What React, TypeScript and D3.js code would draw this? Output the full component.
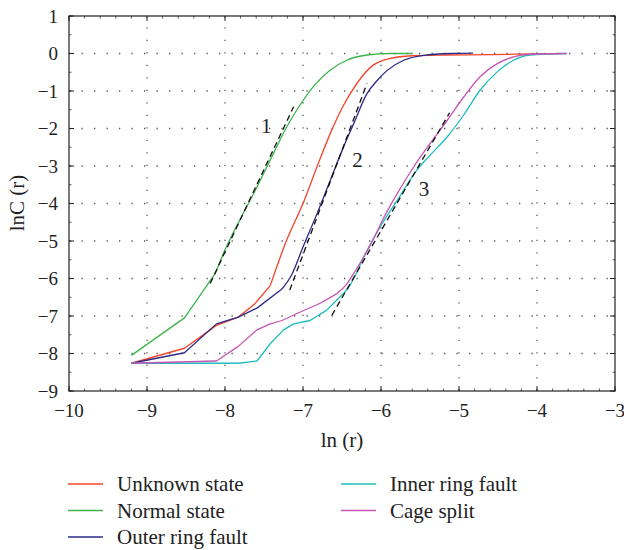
import React from "react";
import * as d3 from "d3";

// ---------- data (ln r, ln C(r)) ----------
const unknownX = [-9.2, -8.52, -8.11, -7.83, -7.62, -7.42, -7.21, -7.0, -6.82, -6.65, -6.48, -6.31, -6.1, -5.88, -5.6, -5.2, -4.6, -4.05, -3.7];
const unknownY = [-8.26, -7.86, -7.25, -7.03, -6.68, -6.19, -4.98, -4.0, -3.02, -2.13, -1.38, -0.8, -0.31, -0.13, -0.06, -0.04, -0.03, -0.01, 0];

const normalX = [-9.2, -8.52, -8.12, -8.02, -7.81, -7.59, -7.38, -7.21, -7.04, -6.87, -6.65, -6.44, -6.18, -5.88, -5.59];
const normalY = [-8.05, -7.05, -5.85, -5.33, -4.44, -3.56, -2.67, -1.96, -1.38, -0.89, -0.44, -0.18, -0.04, 0, 0];

const outerX = [-9.2, -8.52, -8.11, -7.83, -7.59, -7.27, -7.15, -7.0, -6.82, -6.65, -6.48, -6.35, -6.18, -6.05, -5.92, -5.71, -5.45, -5.1, -4.82];
const outerY = [-8.26, -7.98, -7.21, -7.03, -6.79, -6.28, -5.92, -5.16, -4.27, -3.38, -2.49, -1.87, -1.07, -0.72, -0.45, -0.18, -0.05, 0, 0.01];

const innerX = [-9.2, -7.83, -7.59, -7.42, -7.25, -7.12, -6.91, -6.7, -6.53, -6.42, -6.33, -6.22, -6.01, -5.79, -5.54, -5.37, -5.15, -4.94, -4.73, -4.51, -4.3, -4.09, -3.62];
const innerY = [-8.26, -8.26, -8.2, -7.74, -7.37, -7.21, -7.12, -6.85, -6.5, -6.25, -5.92, -5.42, -4.62, -3.91, -3.11, -2.71, -2.22, -1.64, -0.98, -0.49, -0.18, -0.04, 0];

const cageX = [-9.2, -8.11, -7.83, -7.59, -7.42, -7.27, -7.04, -6.78, -6.57, -6.44, -6.33, -6.2, -6.05, -5.97, -5.79, -5.58, -5.37, -5.15, -4.94, -4.73, -4.51, -4.3, -4.09, -3.62];
const cageY = [-8.26, -8.2, -7.81, -7.37, -7.21, -7.12, -6.9, -6.66, -6.41, -6.15, -5.8, -5.35, -4.75, -4.4, -3.73, -3.02, -2.4, -1.78, -1.16, -0.62, -0.27, -0.09, -0.02, 0];

const seriesNames = ["Unknown state", "Normal state", "Outer ring fault", "Inner ring fault", "Cage split"];
const seriesColors = ["#f4452a", "#3cb44a", "#2d2a87", "#1fbdbd", "#c455b5"];
const seriesXs = [unknownX, normalX, outerX, innerX, cageX];
const seriesYs = [unknownY, normalY, outerY, innerY, cageY];
// index from which each curve is drawn smooth (before it: straight segments)
const smoothFrom = [5, 2, 5, 8, 8];

// fitted dashed lines
const fitLabels = ["1", "2", "3"];
const fitStartX = [-8.19, -7.17, -6.63];
const fitStartY = [-6.13, -6.31, -6.98];
const fitEndX = [-7.12, -6.18, -5.12];
const fitEndY = [-1.42, -0.8, -1.58];
const fitLabelX = [-7.47, -6.3, -5.45];
const fitLabelY = [-1.93, -2.84, -3.61];

const xTicks = [-10, -9, -8, -7, -6, -5, -4, -3];
const yTicks = [1, 0, -1, -2, -3, -4, -5, -6, -7, -8, -9];

const W = 624;
const H = 550;
const left = 69, right = 615, top = 16, bottom = 391;
const FONT = "'Liberation Serif', 'Times New Roman', serif";

export default function App() {
  const x = d3.scaleLinear().domain([-10, -3]).range([left, right]);
  const y = d3.scaleLinear().domain([-9, 1]).range([bottom, top]);
  const straight = d3.line<[number, number]>().x((d) => x(d[0])).y((d) => y(d[1]));
  const smooth = d3
    .line<[number, number]>()
    .x((d) => x(d[0]))
    .y((d) => y(d[1]))
    .curve(d3.curveMonotoneX);
  const fmt = (v: number) => (v < 0 ? "\u2212" + Math.abs(v) : String(v));

  const xMinor = d3.range(-10, -3 + 1e-9, 0.2);
  const yMinor = d3.range(-9, 1 + 1e-9, 0.5);

  return (
    <svg width={W} height={H} style={{ position: "absolute", left: 0, top: 0, background: "#fff" }} fontFamily={FONT}>
      {/* grid */}
      <g stroke="#555" strokeWidth={1.3} strokeDasharray="1.3 11.2">
        {xTicks.slice(1, -1).map((t) => (
          <line key={"gx" + t} x1={x(t)} x2={x(t)} y1={bottom} y2={top} />
        ))}
        {yTicks.slice(1, -1).map((t) => (
          <line key={"gy" + t} x1={left} x2={right} y1={y(t)} y2={y(t)} />
        ))}
      </g>
      {/* minor ticks */}
      <g stroke="#333" strokeWidth={0.8}>
        {xMinor.map((t, i) => (
          <g key={"mx" + i}>
            <line x1={x(t)} x2={x(t)} y1={bottom} y2={bottom - 2.5} />
            <line x1={x(t)} x2={x(t)} y1={top} y2={top + 2.5} />
          </g>
        ))}
        {yMinor.map((t, i) => (
          <g key={"my" + i}>
            <line x1={left} x2={left + 2.5} y1={y(t)} y2={y(t)} />
            <line x1={right} x2={right - 2.5} y1={y(t)} y2={y(t)} />
          </g>
        ))}
      </g>
      {/* major ticks */}
      <g stroke="#222" strokeWidth={1}>
        {xTicks.map((t) => (
          <g key={"tx" + t}>
            <line x1={x(t)} x2={x(t)} y1={bottom} y2={bottom - 5} />
            <line x1={x(t)} x2={x(t)} y1={top} y2={top + 5} />
          </g>
        ))}
        {yTicks.map((t) => (
          <g key={"ty" + t}>
            <line x1={left} x2={left + 5} y1={y(t)} y2={y(t)} />
            <line x1={right} x2={right - 5} y1={y(t)} y2={y(t)} />
          </g>
        ))}
      </g>
      {/* curves */}
      {seriesNames.map((name, i) => {
        const pts = seriesXs[i].map((v, j) => [v, seriesYs[i][j]] as [number, number]);
        const k = smoothFrom[i];
        return (
          <g key={name} fill="none" stroke={seriesColors[i]} strokeWidth={1.3} strokeLinejoin="round">
            <path d={straight(pts.slice(0, k + 1)) || ""} />
            <path d={smooth(pts.slice(k)) || ""} />
          </g>
        );
      })}
      {/* fitted dashed lines */}
      {fitLabels.map((lab, i) => (
        <g key={"fit" + lab}>
          <line
            x1={x(fitStartX[i])}
            y1={y(fitStartY[i])}
            x2={x(fitEndX[i])}
            y2={y(fitEndY[i])}
            stroke="#111"
            strokeWidth={1.3}
            strokeDasharray="6 4"
          />
          <text x={x(fitLabelX[i])} y={y(fitLabelY[i])} fontSize={21} textAnchor="middle" dominantBaseline="central" fill="#222">
            {lab}
          </text>
        </g>
      ))}
      {/* frame */}
      <rect x={left} y={top} width={right - left} height={bottom - top} fill="none" stroke="#222" strokeWidth={1.2} />
      {/* tick labels */}
      <g fontSize={19} fill="#222">
        {xTicks.map((t) => (
          <text key={"lx" + t} x={x(t)} y={417} textAnchor="middle">
            {fmt(t)}
          </text>
        ))}
        {yTicks.map((t) => (
          <text key={"ly" + t} x={58} y={y(t)} textAnchor="end" dominantBaseline="central">
            {fmt(t)}
          </text>
        ))}
      </g>
      {/* axis titles */}
      <text x={(left + right) / 2} y={447} fontSize={21} textAnchor="middle" fill="#222">
        ln (r)
      </text>
      <text transform={`translate(17,203) rotate(-90)`} fontSize={21} textAnchor="middle" dominantBaseline="central" fill="#222">
        lnC (r)
      </text>
      {/* legend */}
      {seriesNames.map((name, i) => {
        const col = i < 3 ? 0 : 1;
        const row = i < 3 ? i : i - 3;
        const lx = col === 0 ? 68 : 341;
        const ly = 484 + row * 26.5;
        return (
          <g key={"lg" + name}>
            <line x1={lx} x2={lx + 35} y1={ly} y2={ly} stroke={seriesColors[i]} strokeWidth={1.3} />
            <text x={lx + 49} y={ly} fontSize={21} dominantBaseline="central" fill="#222">
              {name}
            </text>
          </g>
        );
      })}
    </svg>
  );
}
